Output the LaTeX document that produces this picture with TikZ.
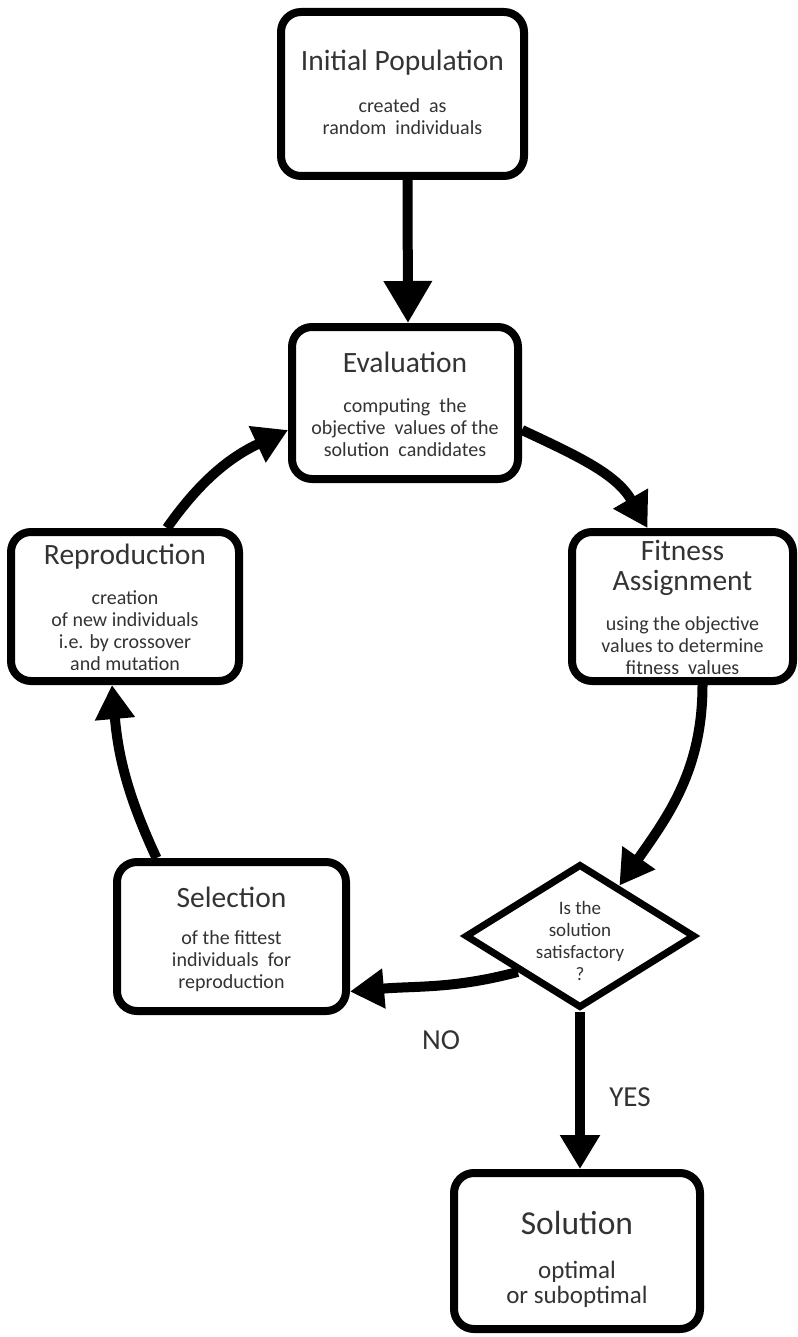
\documentclass[tikz,border=0pt]{standalone}
\usepackage{fontspec}
\setmainfont{Carlito}
\usetikzlibrary{shapes.geometric,arrows.meta}
\definecolor{txt}{HTML}{333333}
\begin{document}
\begin{tikzpicture}[x=1pt,y=1pt,
  box/.style={draw=black, line width=8pt, rounded corners=20pt, fill=white, inner sep=0pt},
  decision/.style={draw=black, line width=7pt, diamond, fill=white, inner sep=0pt,
    minimum width=230pt, minimum height=144pt},
  ttl/.style={text=txt, font=\fontsize{29.5}{30}\selectfont, align=center, inner sep=0pt},
  sub/.style={text=txt, font=\fontsize{20}{22}\selectfont, align=center, inner sep=0pt},
  lbl/.style={text=txt, font=\fontsize{29}{30}\selectfont, inner sep=0pt},
  flow/.style={line width=10pt, -{Triangle[length=34pt,width=38pt]}},
  bigflow/.style={line width=10pt, -{Triangle[length=42pt,width=46pt]}},
]
\useasboundingbox (0,0) rectangle (797,-1337);

% boxes
\node[box, minimum width=243pt, minimum height=164pt] (init) at (402.5,-94) {};
\node[ttl] (init-t) at (402.5,-63) {Initial Population};
\node[sub] (init-s) at (402.5,-117) {created\ \ as\\random\ \ individuals};

\node[box, minimum width=226pt, minimum height=152pt] (eval) at (405,-403) {};
\node[ttl] (eval-t) at (405,-362) {Evaluation};
\node[sub] (eval-s) at (405,-428) {computing\ \ the\\objective\ \ values of the\\solution\ \ candidates};

\node[box, minimum width=221pt, minimum height=149pt] (fit) at (682.5,-606.5) {};
\node[ttl] (fit-t) at (682.5,-568) {Fitness\\Assignment};
\node[sub] (fit-s) at (682.5,-646) {using the objective\\values to determine\\fitness\ \ values};

\node[box, minimum width=228pt, minimum height=149pt] (rep) at (125,-606.5) {};
\node[ttl] (rep-t) at (125,-557) {Reproduction};
\node[sub] (rep-s) at (125,-631) {creation\\of new individuals\\i.e. by crossover\\and mutation};

\node[box, minimum width=229pt, minimum height=149pt] (sel) at (231.5,-936.5) {};
\node[ttl] (sel-t) at (231.5,-897) {Selection};
\node[sub] (sel-s) at (231.5,-961) {of the fittest\\individuals\ \ for\\reproduction};

\node[decision] (dia) at (580,-936) {};
\node[sub, font=\fontsize{19}{22}\selectfont] (dia-t) at (580,-941) {Is the\\solution\\satisfactory\\?};

\node[box, minimum width=246pt, minimum height=156pt] (sol) at (577,-1251) {};
\node[ttl, font=\fontsize{33.5}{36}\selectfont] (sol-t) at (577,-1223) {Solution};
\node[sub, font=\fontsize{25}{25}\selectfont] (sol-s) at (577,-1284) {optimal\\or suboptimal};

% connectors
\draw[bigflow] ([xshift=5pt]init.south) -- ([xshift=3pt]eval.north);
\draw[flow] ([yshift=-27pt]eval.east) to[out=-25,in=120] ([xshift=-35pt]fit.north);
\draw[flow] ([xshift=20pt]fit.south) to[out=-90,in=55] (dia.52);
\draw[flow] (dia.210) to[out=195,in=5] ([yshift=-55pt]sel.east);
\draw[flow] ([xshift=-75pt]sel.north) to[out=115,in=-85] ([xshift=-13pt]rep.south);
\draw[flow] ([xshift=42pt]rep.north) to[out=55,in=205] ([yshift=-27pt]eval.west);
\draw[flow] (dia.south) -- (dia.south |- sol.north);

% branch labels
\node[lbl] (no) at (441,-1040) {NO};
\node[lbl] (yes) at (630,-1097) {YES};
\end{tikzpicture}
\end{document}
